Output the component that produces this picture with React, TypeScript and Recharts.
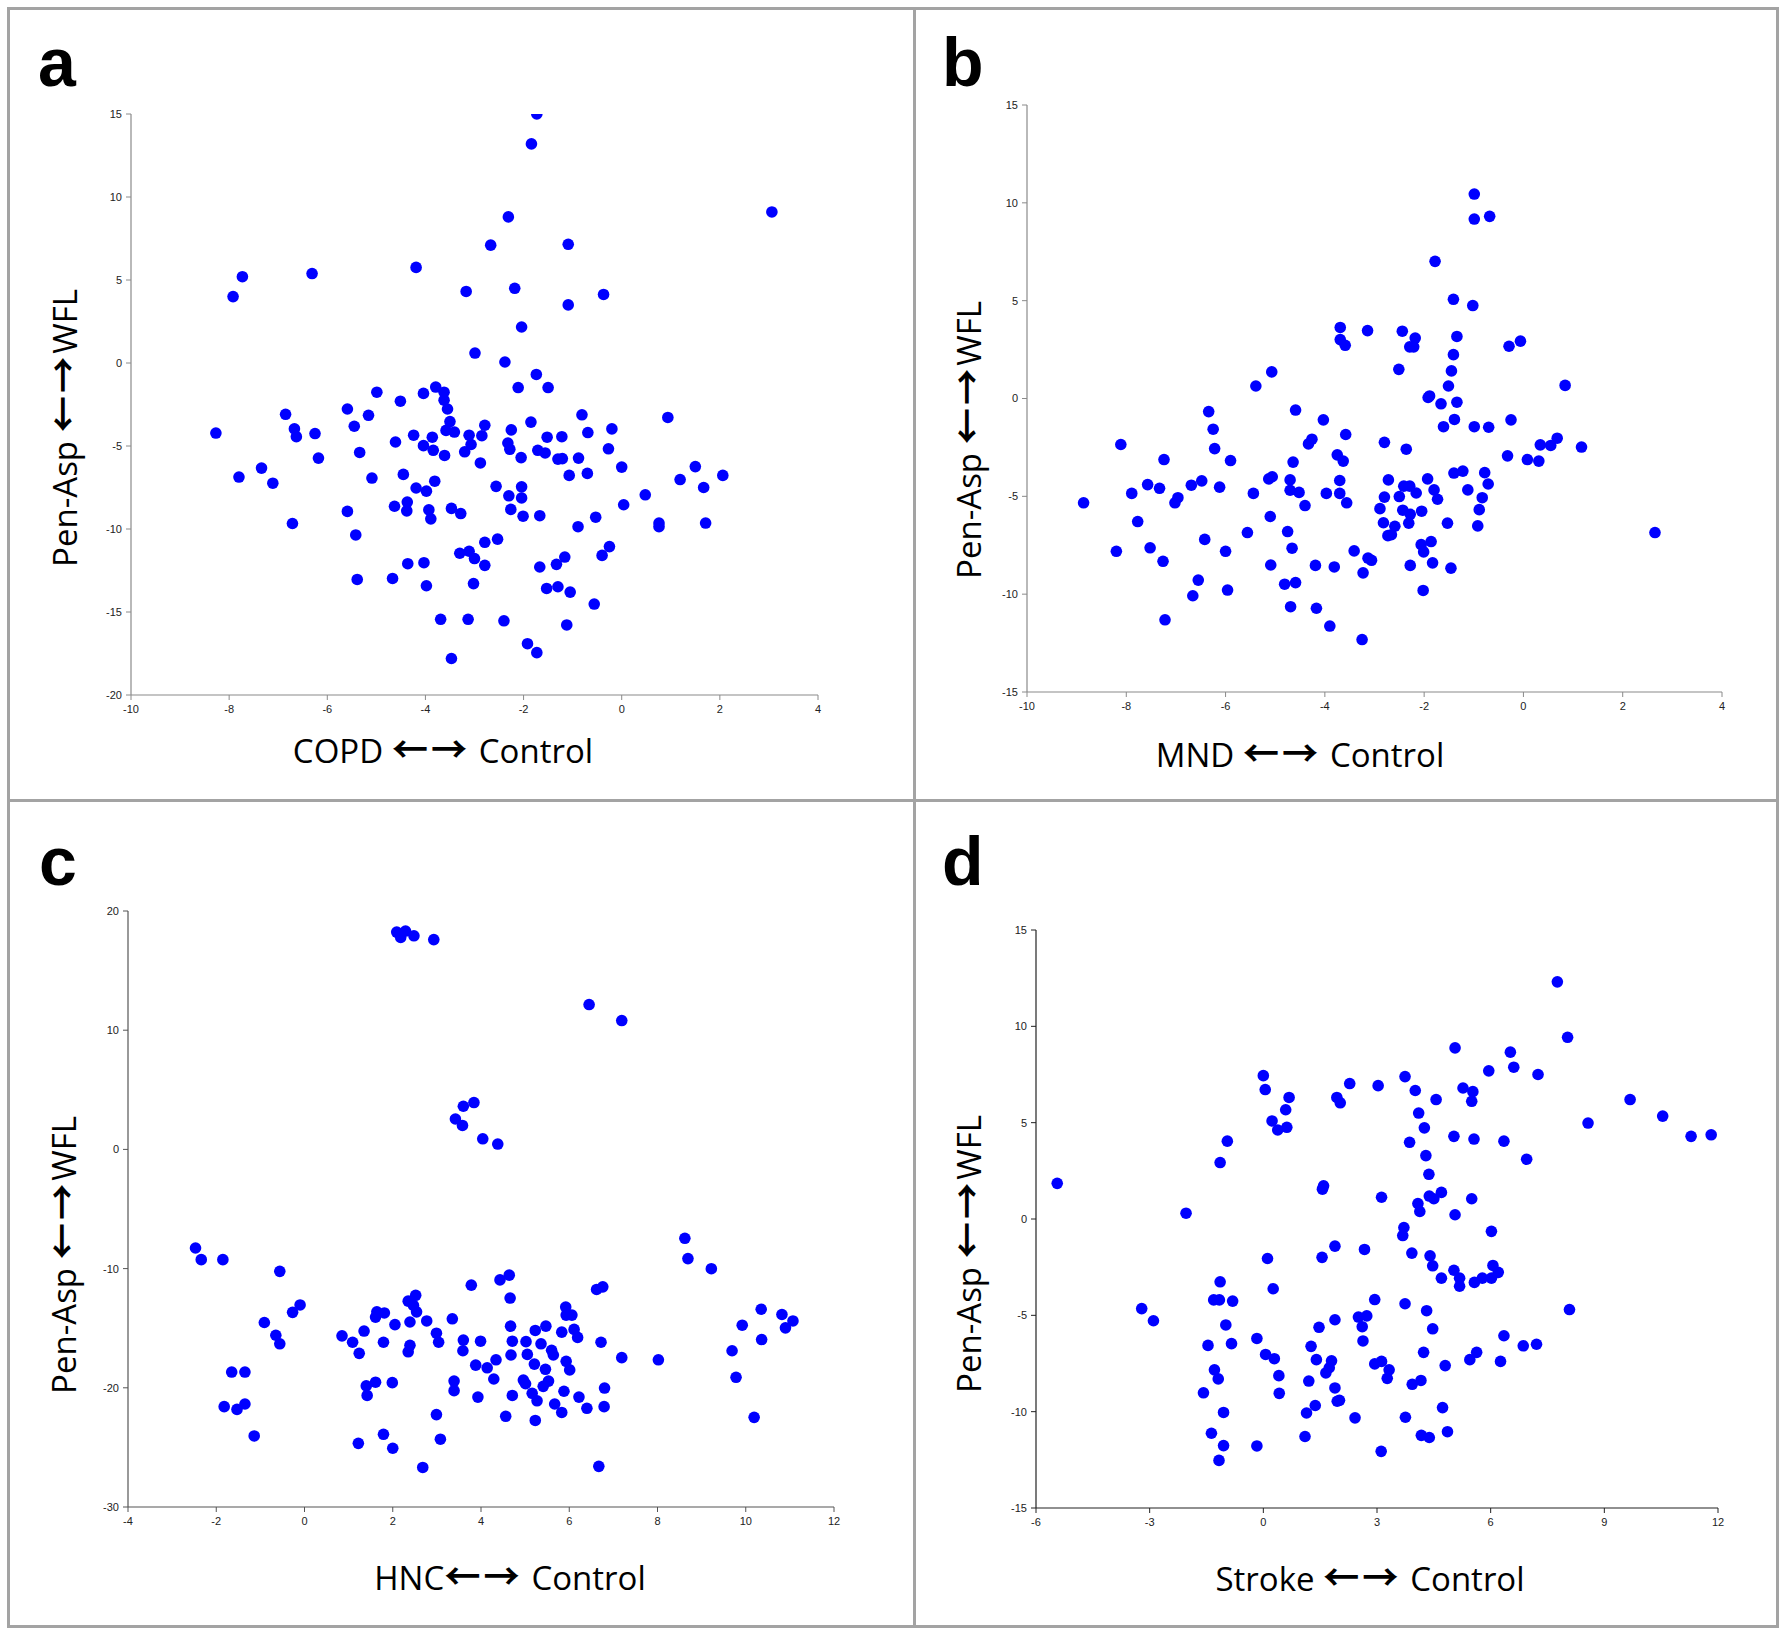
import { ScatterChart, Scatter, XAxis, YAxis } from "recharts";

// panel a: COPD vs control
const copdPoints: [number, number][] = [
  [-1.73, 15.0], [-1.84, 13.2], [3.06, 9.1], [-2.31, 8.8], [-2.67, 7.1], [-1.09, 7.15], [-4.19, 5.76],
  [-7.73, 5.2], [-6.31, 5.39], [-7.92, 4.0], [-3.17, 4.31], [-2.18, 4.5], [-0.37, 4.13], [-1.09, 3.5],
  [-2.04, 2.17], [-2.99, 0.6], [-2.38, 0.06], [-1.74, -0.69], [-2.11, -1.48], [-1.5, -1.48], [-4.99, -1.76],
  [-4.04, -1.83], [-3.79, -1.45], [-3.62, -1.76], [-3.62, -2.24], [-3.55, -2.77], [-4.51, -2.3], [-5.59, -2.77],
  [-5.16, -3.15], [-6.85, -3.09], [-0.81, -3.12], [0.94, -3.28], [-3.5, -3.53], [-3.41, -4.16], [-3.58, -4.06],
  [-2.79, -3.75], [-1.85, -3.56], [-8.27, -4.22], [-6.67, -3.97], [-6.63, -4.44], [-6.25, -4.25], [-5.45, -3.81],
  [-4.24, -4.35], [-3.86, -4.47], [-3.11, -4.35], [-3.2, -5.35], [-3.07, -4.91], [-2.85, -4.38], [-2.25, -4.03],
  [-2.32, -4.82], [-2.28, -5.2], [-2.05, -5.7], [-1.52, -4.47], [-1.71, -5.26], [-1.56, -5.42], [-1.22, -4.44],
  [-1.3, -5.79], [-1.21, -5.76], [-0.69, -4.19], [-0.2, -3.97], [-0.27, -5.17], [-0.88, -5.73], [0.0, -6.27],
  [-0.7, -6.65], [-1.07, -6.77], [1.19, -7.02], [1.5, -6.24], [2.06, -6.77], [1.67, -7.5], [0.48, -7.94],
  [0.04, -8.54], [0.76, -9.64], [0.76, -9.86], [1.71, -9.64], [-0.89, -9.86], [-0.53, -9.29], [-0.25, -11.06],
  [-0.4, -11.59], [-0.56, -14.52], [-1.16, -11.69], [-1.33, -12.13], [-1.67, -12.29], [-1.67, -9.2], [-2.01, -9.23],
  [-2.04, -8.13], [-2.04, -7.46], [-2.3, -8.0], [-2.26, -8.82], [-2.56, -7.43], [-2.88, -6.02], [-2.79, -10.8],
  [-2.53, -10.61], [-2.79, -12.19], [-3.02, -13.29], [-3.3, -11.46], [-3.11, -11.34], [-3.0, -11.78], [-3.47, -8.76],
  [-3.28, -9.07], [-3.81, -7.12], [-4.19, -7.53], [-3.98, -7.72], [-4.45, -6.71], [-5.09, -6.93], [-5.34, -5.39],
  [-6.18, -5.73], [-4.61, -4.76], [-4.04, -4.98], [-3.84, -5.26], [-3.61, -5.57], [-7.34, -6.33], [-7.11, -7.24],
  [-7.8, -6.87], [-6.71, -9.67], [-5.59, -8.94], [-5.42, -10.36], [-5.39, -13.04], [-4.63, -8.63], [-4.38, -8.91],
  [-4.37, -8.38], [-3.93, -8.85], [-3.89, -9.39], [-4.36, -12.09], [-4.03, -12.03], [-3.98, -13.42], [-4.67, -12.98],
  [-3.69, -15.44], [-3.13, -15.44], [-3.47, -17.8], [-2.4, -15.53], [-1.92, -16.91], [-1.73, -17.45], [-1.12, -15.78],
  [-1.05, -13.8], [-1.3, -13.48], [-1.53, -13.58],
];

// panel b: MND vs control
const mndPoints: [number, number][] = [
  [-0.99, 10.45], [-0.99, 9.17], [-0.68, 9.31], [-1.78, 7.01], [-1.41, 5.07], [-1.02, 4.75], [-3.69, 3.63],
  [-3.69, 3.01], [-3.59, 2.72], [-3.14, 3.47], [-2.44, 3.44], [-2.18, 3.09], [-2.29, 2.64], [-2.21, 2.64],
  [-1.34, 3.17], [-1.41, 2.24], [-1.45, 1.41], [-2.51, 1.49], [-0.29, 2.67], [-0.06, 2.93], [0.84, 0.67],
  [-1.51, 0.64], [-1.89, 0.13], [-1.92, 0.05], [-1.66, -0.27], [-1.34, -0.19], [-5.07, 1.36], [-5.39, 0.64],
  [-6.34, -0.67], [-4.59, -0.59], [-4.03, -1.09], [-1.39, -1.07], [-0.25, -1.09], [-1.61, -1.44], [-0.99, -1.44],
  [-0.7, -1.47], [-6.25, -1.57], [-3.58, -1.84], [-8.11, -2.35], [-6.22, -2.56], [-4.26, -2.08], [-4.33, -2.32],
  [-2.8, -2.24], [-2.36, -2.59], [0.34, -2.37], [0.55, -2.4], [0.68, -2.03], [1.17, -2.48], [-7.24, -3.12],
  [-5.9, -3.17], [-4.64, -3.25], [-3.75, -2.88], [-3.63, -3.2], [-0.32, -2.93], [0.08, -3.12], [0.31, -3.2],
  [-1.4, -3.81], [-1.22, -3.71], [-0.78, -3.79], [-0.71, -4.37], [-1.12, -4.67], [-0.83, -5.07], [-0.89, -5.68],
  [-0.92, -6.51], [-7.57, -4.4], [-7.33, -4.59], [-7.89, -4.85], [-8.86, -5.33], [-7.02, -5.33], [-6.96, -5.07],
  [-6.69, -4.43], [-6.48, -4.21], [-6.12, -4.53], [-5.44, -4.85], [-5.13, -4.11], [-5.06, -4.0], [-4.7, -4.16],
  [-4.7, -4.69], [-4.52, -4.8], [-4.4, -5.47], [-3.97, -4.85], [-3.7, -4.19], [-3.7, -4.85], [-3.56, -5.33],
  [-2.8, -5.04], [-2.72, -4.16], [-2.89, -5.63], [-2.82, -6.35], [-2.73, -7.01], [-2.66, -6.96], [-2.59, -6.53],
  [-2.5, -5.01], [-2.43, -5.71], [-2.41, -4.48], [-2.29, -4.48], [-2.28, -5.92], [-2.31, -6.37], [-2.16, -4.83],
  [-1.93, -4.11], [-1.8, -4.67], [-1.73, -5.15], [-2.05, -5.76], [-1.53, -6.37], [-2.06, -7.47], [-1.86, -7.31],
  [-2.01, -7.84], [-1.83, -8.4], [-2.28, -8.53], [-1.46, -8.67], [-2.02, -9.81], [-7.77, -6.29], [-8.2, -7.81],
  [-7.52, -7.63], [-7.26, -8.32], [-6.42, -7.2], [-6.55, -9.28], [-6.66, -10.08], [-7.22, -11.31], [-6.0, -7.81],
  [-5.96, -9.79], [-5.56, -6.85], [-5.1, -6.03], [-5.09, -8.51], [-4.75, -6.8], [-4.66, -7.65], [-4.81, -9.49],
  [-4.59, -9.41], [-4.69, -10.64], [-4.19, -8.53], [-4.17, -10.72], [-3.81, -8.61], [-3.9, -11.63], [-3.41, -7.79],
  [-3.23, -8.91], [-3.13, -8.16], [-3.06, -8.27], [-3.25, -12.32], [2.65, -6.85],
];

// panel c: HNC vs control
const hncPoints: [number, number][] = [
  [2.09, 18.23], [2.18, 17.78], [2.29, 18.32], [2.48, 17.92], [2.93, 17.6], [6.45, 12.15], [7.19, 10.81],
  [3.84, 3.93], [3.6, 3.62], [3.42, 2.55], [3.58, 2.01], [4.04, 0.89], [4.38, 0.45], [-2.47, -8.27],
  [-2.34, -9.25], [-1.85, -9.25], [-0.56, -10.23], [-0.91, -14.52], [-0.65, -15.59], [-0.56, -16.31], [-0.27, -13.67],
  [-0.1, -13.05], [-1.65, -18.68], [-1.35, -18.68], [-1.82, -21.58], [-1.53, -21.81], [-1.35, -21.36], [-1.14, -24.04],
  [0.85, -15.64], [1.09, -16.18], [1.24, -17.11], [1.35, -15.24], [1.4, -19.84], [1.42, -20.64], [1.61, -19.53],
  [1.22, -24.66], [1.61, -14.07], [1.64, -13.63], [1.81, -13.72], [1.79, -16.18], [1.99, -19.57], [1.79, -23.9],
  [2.0, -25.07], [2.05, -14.7], [2.35, -12.73], [2.52, -12.24], [2.47, -13.09], [2.54, -13.63], [2.39, -14.48],
  [2.39, -16.44], [2.35, -16.98], [2.77, -14.39], [2.99, -15.42], [3.04, -16.18], [2.99, -22.25], [3.08, -24.31],
  [2.68, -26.68], [3.35, -14.21], [3.39, -19.44], [3.39, -20.24], [3.6, -16.0], [3.59, -16.89], [3.78, -11.39],
  [3.99, -16.09], [3.88, -18.1], [3.93, -20.78], [4.34, -17.65], [4.14, -18.32], [4.29, -19.26], [4.64, -10.55],
  [4.43, -10.95], [4.66, -12.47], [4.67, -14.83], [4.71, -16.09], [4.68, -17.25], [4.71, -20.64], [4.56, -22.39],
  [4.96, -19.35], [5.01, -19.66], [5.02, -16.13], [5.05, -17.2], [5.21, -18.01], [5.16, -20.46], [5.27, -21.09],
  [5.23, -22.74], [5.23, -15.19], [5.36, -16.31], [5.47, -14.83], [5.41, -19.88], [5.46, -18.45], [5.53, -19.44],
  [5.6, -16.85], [5.64, -17.25], [5.67, -21.36], [5.83, -15.33], [5.83, -22.07], [5.88, -20.29], [5.93, -17.78],
  [5.92, -13.23], [5.93, -13.9], [6.06, -13.9], [6.11, -15.1], [6.01, -18.5], [6.19, -15.77], [6.22, -20.78],
  [6.4, -21.72], [6.62, -11.75], [6.76, -11.53], [6.72, -16.18], [6.8, -20.02], [6.79, -21.58], [6.67, -26.59],
  [7.19, -17.47], [8.02, -17.65], [8.62, -7.46], [8.69, -9.16], [9.22, -10.01], [9.69, -16.89], [9.78, -19.12],
  [9.92, -14.75], [10.19, -22.48], [10.35, -13.41], [10.36, -15.95], [10.82, -13.85], [10.9, -14.97], [11.07, -14.39],
];

// panel d: stroke vs control
const strokePoints: [number, number][] = [
  [7.76, 12.31], [8.03, 9.43], [5.06, 8.88], [6.52, 8.66], [6.61, 7.88], [5.95, 7.69], [7.25, 7.5],
  [0.0, 7.44], [0.05, 6.72], [0.68, 6.31], [0.59, 5.67], [0.23, 5.09], [0.38, 4.62], [0.62, 4.76],
  [-0.95, 4.04], [-1.14, 2.93], [1.94, 6.31], [2.03, 6.03], [2.28, 7.03], [3.03, 6.92], [3.74, 7.39],
  [4.01, 6.67], [4.56, 6.2], [4.1, 5.5], [4.25, 4.73], [3.86, 3.98], [4.29, 3.29], [4.37, 2.32],
  [5.27, 6.8], [5.53, 6.61], [5.5, 6.11], [5.03, 4.29], [5.56, 4.15], [6.35, 4.04], [6.95, 3.1],
  [8.57, 4.98], [9.68, 6.2], [10.54, 5.34], [11.29, 4.29], [11.82, 4.37], [-5.44, 1.85], [-2.04, 0.3],
  [1.56, 1.55], [1.59, 1.72], [3.12, 1.13], [4.08, 0.8], [4.13, 0.39], [4.38, 1.19], [4.5, 1.05],
  [4.7, 1.38], [5.5, 1.05], [5.06, 0.22], [3.71, -0.44], [3.68, -0.86], [6.02, -0.64], [1.89, -1.41],
  [2.67, -1.58], [1.55, -1.99], [0.11, -2.05], [3.92, -1.77], [4.4, -1.91], [4.47, -2.43], [5.03, -2.66],
  [4.7, -3.07], [5.18, -3.07], [5.18, -3.49], [5.57, -3.29], [5.78, -3.07], [6.02, -3.07], [6.06, -2.41],
  [6.2, -2.77], [0.26, -3.62], [-1.14, -3.26], [-1.31, -4.2], [-1.16, -4.2], [-0.81, -4.26], [-3.21, -4.65],
  [-2.9, -5.28], [-0.99, -5.5], [-1.46, -6.56], [-0.84, -6.47], [-1.29, -7.83], [-1.19, -8.3], [-1.58, -9.02],
  [-1.05, -10.04], [-1.37, -11.12], [-1.05, -11.76], [-1.17, -12.53], [-0.17, -11.78], [-0.17, -6.2], [0.06, -7.03],
  [0.29, -7.25], [0.41, -8.13], [0.42, -9.05], [1.1, -11.29], [1.14, -10.07], [1.2, -8.41], [1.26, -6.61],
  [1.4, -7.3], [1.37, -9.68], [1.47, -5.62], [1.65, -7.99], [1.74, -7.72], [1.8, -7.36], [1.89, -5.23],
  [1.89, -8.77], [1.95, -9.46], [2.01, -9.41], [2.42, -10.32], [2.51, -5.09], [2.61, -5.59], [2.73, -5.03],
  [2.63, -6.33], [2.94, -4.18], [2.94, -7.52], [3.12, -7.39], [3.32, -7.83], [3.27, -8.27], [3.11, -12.06],
  [3.74, -4.4], [4.31, -4.76], [4.47, -5.7], [4.23, -6.92], [3.93, -8.58], [4.16, -8.38], [3.75, -10.29],
  [4.17, -11.23], [4.38, -11.34], [4.73, -9.79], [4.86, -11.04], [4.8, -7.61], [5.45, -7.3], [5.63, -6.92],
  [6.26, -7.39], [6.35, -6.06], [6.86, -6.58], [7.21, -6.5], [8.08, -4.7],
];

const xTicksAB = [-10, -8, -6, -4, -2, 0, 2, 4];
const yTicksA = [-20, -15, -10, -5, 0, 5, 10, 15];
const yTicksBD = [-15, -10, -5, 0, 5, 10, 15];
const xTicksC = [-4, -2, 0, 2, 4, 6, 8, 10, 12];
const yTicksC = [-30, -20, -10, 0, 10, 20];
const xTicksD = [-6, -3, 0, 3, 6, 9, 12];

const FRAME = "#a3a3a3";
const DOT = "#0000ff";
const TITLE_FONT = "'Open Sans', 'Noto Sans', sans-serif";
const ARROW_FONT = "'Noto Sans CJK JP', 'DejaVu Sans', sans-serif";

const Dot = (props: any) => <circle cx={props.cx} cy={props.cy} r={5.8} fill={DOT} />;

function Panel({
  points, left, top, width, height, xDomain, yDomain, xTicks, yTicks, axisColor,
}: {
  points: [number, number][];
  left: number; top: number; width: number; height: number;
  xDomain: [number, number]; yDomain: [number, number];
  xTicks: number[]; yTicks: number[]; axisColor: string;
}) {
  const data = points.map(([x, y]) => ({ x, y }));
  const tick = { fontSize: 11, fill: "#222", fontFamily: "'Liberation Sans', Arial, sans-serif" };
  return (
    <div style={{ position: "absolute", left: left - 60, top: top - 20 }}>
      <ScatterChart
        width={width + 80}
        height={height + 60}
        margin={{ top: 20, right: 20, bottom: 0, left: 0 }}
      >
        <XAxis
          type="number"
          dataKey="x"
          domain={xDomain}
          ticks={xTicks}
          interval={0}
          height={40}
          allowDataOverflow
          tick={tick}
          tickSize={5}
          tickMargin={5}
          axisLine={{ stroke: axisColor, strokeWidth: 1.2 }}
          tickLine={{ stroke: axisColor }}
        />
        <YAxis
          type="number"
          dataKey="y"
          domain={yDomain}
          ticks={yTicks}
          interval={0}
          width={60}
          allowDataOverflow
          tick={tick}
          tickSize={5}
          tickMargin={4}
          axisLine={{ stroke: axisColor, strokeWidth: 1.2 }}
          tickLine={{ stroke: axisColor }}
        />
        <Scatter data={data} shape={Dot} isAnimationActive={false} />
      </ScatterChart>
    </div>
  );
}

function Letter({ text, x, y }: { text: string; x: number; y: number }) {
  return (
    <div
      style={{
        position: "absolute", left: x, top: y, fontSize: 68, fontWeight: 700, lineHeight: 1,
        fontFamily: "'Liberation Sans', Arial, sans-serif", color: "#000",
      }}
    >
      {text}
    </div>
  );
}

// the two heavy arrows between the group names
function Arrows() {
  return (
    <span style={{ fontFamily: ARROW_FONT, fontWeight: 700, fontSize: "1.1em", letterSpacing: 3 }}>←→</span>
  );
}

function XTitle({ left, right, cx, cy }: { left: string; right: string; cx: number; cy: number }) {
  return (
    <div
      style={{
        position: "absolute", left: cx, top: cy, transform: "translate(-50%, -50%)",
        fontSize: 33, fontFamily: TITLE_FONT, whiteSpace: "nowrap", color: "#000", lineHeight: 1,
      }}
    >
      {left}
      <Arrows />
      {right}
    </div>
  );
}

function YTitle({ cx, cy }: { cx: number; cy: number }) {
  return (
    <div
      style={{
        position: "absolute", left: cx, top: cy, transform: "translate(-50%, -50%) rotate(-90deg)",
        fontSize: 33, fontFamily: TITLE_FONT, whiteSpace: "nowrap", color: "#000", lineHeight: 1,
      }}
    >
      Pen-Asp <Arrows />WFL
    </div>
  );
}

export default function App() {
  return (
    <div style={{ position: "relative", width: 1786, height: 1635, background: "#fff", overflow: "hidden" }}>
      <style>{"body{margin:0}"}</style>
      <div
        style={{
          position: "absolute", left: 7, top: 7, width: 1772, height: 1621,
          border: `3px solid ${FRAME}`, boxSizing: "border-box",
        }}
      />
      <div style={{ position: "absolute", left: 913, top: 7, width: 3, height: 1621, background: FRAME }} />
      <div style={{ position: "absolute", left: 7, top: 799, width: 1772, height: 3, background: FRAME }} />

      <Panel points={copdPoints} left={131} top={114} width={687} height={581}
        xDomain={[-10, 4]} yDomain={[-20, 15]} xTicks={xTicksAB} yTicks={yTicksA} axisColor="#8a8a8a" />
      <Panel points={mndPoints} left={1027} top={105} width={695} height={587}
        xDomain={[-10, 4]} yDomain={[-15, 15]} xTicks={xTicksAB} yTicks={yTicksBD} axisColor="#8a8a8a" />
      <Panel points={hncPoints} left={128} top={911} width={706} height={596}
        xDomain={[-4, 12]} yDomain={[-30, 20]} xTicks={xTicksC} yTicks={yTicksC} axisColor="#555" />
      <Panel points={strokePoints} left={1036} top={930} width={682} height={578}
        xDomain={[-6, 12]} yDomain={[-15, 15]} xTicks={xTicksD} yTicks={yTicksBD} axisColor="#222" />

      <Letter text="a" x={38} y={28} />
      <Letter text="b" x={942} y={28} />
      <Letter text="c" x={39} y={827} />
      <Letter text="d" x={942} y={827} />

      <YTitle cx={62} cy={428} />
      <YTitle cx={966} cy={440} />
      <YTitle cx={61} cy={1255} />
      <YTitle cx={966} cy={1254} />

      <XTitle left="COPD " right=" Control" cx={443} cy={748} />
      <XTitle left="MND " right=" Control" cx={1300} cy={752} />
      <XTitle left="HNC" right=" Control" cx={510} cy={1575} />
      <XTitle left="Stroke " right=" Control" cx={1370} cy={1576} />
    </div>
  );
}
